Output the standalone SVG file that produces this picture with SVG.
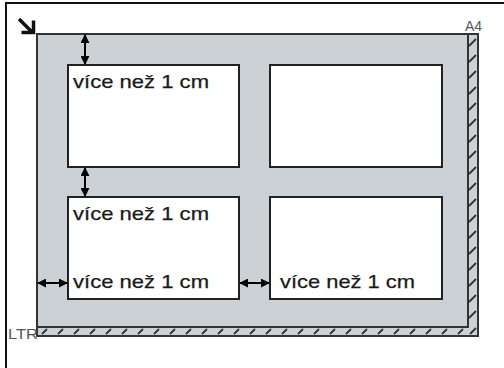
<svg xmlns="http://www.w3.org/2000/svg" width="504" height="368" viewBox="0 0 504 368">
  <style>
    .box { fill: #ffffff; stroke: #222; stroke-width: 2; }
    .lbl { font-family: "Liberation Sans", Arial, sans-serif; font-size: 19px; fill: #1a1a1a; stroke: #1a1a1a; stroke-width: 0.25; }
    .small { font-family: "Liberation Sans", Arial, sans-serif; font-size: 14px; fill: #555; }
    .dim { stroke: #000; stroke-width: 2; fill: none; marker-start: url(#ah); marker-end: url(#ah); }
    .hatch { stroke: #333; stroke-width: 1.8; }
  </style>
  <defs>
    <marker id="ah" viewBox="0 0 10 10" refX="9" refY="5" markerWidth="4.5" markerHeight="4.5" orient="auto-start-reverse" markerUnits="strokeWidth">
      <path d="M0,0 L10,5 L0,10 Z" fill="#000"/>
    </marker>
  </defs>
  <rect width="504" height="368" fill="#fff"/>
  <g id="frame">
    <path d="M6,368 V3 H504" fill="none" stroke="#111" stroke-width="2"/>
  </g>
  <g id="corner-icon" stroke="#111" stroke-width="3.5" fill="none">
    <path d="M19,19 L32,32"/>
    <path d="M21.5,32.5 H33.5 V20.5"/>
  </g>
  <g id="page">
    <rect x="37" y="34" width="441" height="302" fill="#cbd1d4" stroke="#333" stroke-width="2"/>
    <path d="M468,34 V327 H37" fill="none" stroke="#333" stroke-width="2"/>
    <g class="hatch">
      <path d="M42,334 L47,329 M58,334 L63,329 M74,334 L79,329 M90,334 L95,329 M106,334 L111,329 M122,334 L127,329 M138,334 L143,329 M154,334 L159,329 M170,334 L175,329 M186,334 L191,329 M202,334 L207,329 M218,334 L223,329 M234,334 L239,329 M250,334 L255,329 M266,334 L271,329 M282,334 L287,329 M298,334 L303,329 M314,334 L319,329 M330,334 L335,329 M346,334 L351,329 M362,334 L367,329 M378,334 L383,329 M394,334 L399,329 M410,334 L415,329 M426,334 L431,329 M442,334 L447,329 M458,334 L463,329 M470,334 L476,328"/>
      <path d="M469,46 L476,39 M469,62 L476,55 M469,78 L476,71 M469,94 L476,87 M469,110 L476,103 M469,126 L476,119 M469,142 L476,135 M469,158 L476,151 M469,174 L476,167 M469,190 L476,183 M469,206 L476,199 M469,222 L476,215 M469,238 L476,231 M469,254 L476,247 M469,270 L476,263 M469,286 L476,279 M469,302 L476,295 M469,318 L476,311"/>
    </g>
    <text class="small" x="482" y="31" text-anchor="end">A4</text>
    <text class="small" x="8" y="339" textLength="30" lengthAdjust="spacingAndGlyphs">LTR</text>
  </g>
  <g id="box-top-left">
    <rect class="box" x="68" y="65" width="171" height="102"/>
    <text class="lbl" x="73" y="88" textLength="136" lengthAdjust="spacingAndGlyphs">více než 1 cm</text>
  </g>
  <g id="box-top-right">
    <rect class="box" x="270" y="65" width="172" height="102"/>
  </g>
  <g id="box-bottom-left">
    <rect class="box" x="68" y="197" width="171" height="102"/>
    <text class="lbl" x="73" y="220" textLength="136" lengthAdjust="spacingAndGlyphs">více než 1 cm</text>
    <text class="lbl" x="73" y="288" textLength="136" lengthAdjust="spacingAndGlyphs">více než 1 cm</text>
  </g>
  <g id="box-bottom-right">
    <rect class="box" x="270" y="197" width="172" height="102"/>
    <text class="lbl" x="280" y="288" textLength="135" lengthAdjust="spacingAndGlyphs">více než 1 cm</text>
  </g>
  <g id="connectors">
    <line class="dim" x1="85" y1="35" x2="85" y2="64"/>
    <line class="dim" x1="85" y1="168" x2="85" y2="196"/>
    <line class="dim" x1="38" y1="283" x2="67" y2="283"/>
    <line class="dim" x1="240" y1="283" x2="269" y2="283"/>
  </g>
</svg>
